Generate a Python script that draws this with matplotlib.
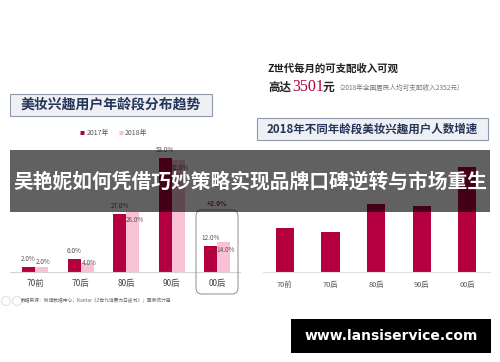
import matplotlib
matplotlib.use('Agg')
import matplotlib.pyplot as plt
from matplotlib.patches import Rectangle, FancyBboxPatch, Ellipse
import numpy as np

plt.rcParams['font.family'] = ['Noto Sans CJK SC', 'DejaVu Sans']

# 数据
age_groups = ['70前', '70后', '80后', '90后', '00后']
share_2017 = [2.0, 6.0, 27.0, 53.0, 12.0]
share_2018 = [2.0, 4.0, 28.0, 52.0, 14.0]
growth_2018 = [44, 40, 68, 66, 105]
label_shift_2018 = [5, 0, -8, -8, -8]

C17 = '#b4003f'
C18 = '#f9c1d6'
NAVY = '#25355a'
GRAY = '#555555'

W, H = 500, 362
fig = plt.figure(figsize=(5, 3.62), dpi=100)
fig.patch.set_facecolor('white')


def fx(px):
    return px / W


def fy(py):
    return 1 - py / H


def box(x0, y0, x1, y1, **kw):
    r = Rectangle((fx(x0), fy(y1)), fx(x1) - fx(x0), fy(y0) - fy(y1),
                  transform=fig.transFigure, **kw)
    fig.add_artist(r)
    return r


# 左图：年龄段分布
ax1 = fig.add_axes([fx(10), fy(271.7), fx(240) - fx(10), fy(158.3) - fy(271.7)])
x = np.arange(len(age_groups))
bw = 0.285
ax1.bar(x - bw / 2, share_2017, bw, color=C17, zorder=2)
ax1.bar(x + bw / 2, share_2018, bw, color=C18, zorder=2)
for i in range(len(x)):
    ax1.annotate('%.1f%%' % share_2017[i], (x[i] - bw / 2, share_2017[i]),
                 xytext=(0, 3), textcoords='offset points', ha='center', va='bottom',
                 fontsize=4.6, color=GRAY, annotation_clip=False)
    ax1.annotate('%.1f%%' % share_2018[i], (x[i] + bw / 2 + 0.04, share_2018[i]),
                 xytext=(0, label_shift_2018[i] * 0.72), textcoords='offset points',
                 ha='center', va='center', fontsize=4.6, color=GRAY, annotation_clip=False)
ax1.set_xlim(-0.55, 4.5)
ax1.set_ylim(0, 53)
ax1.set_xticks(x)
ax1.set_xticklabels(age_groups, fontsize=6, color='#444444')
ax1.tick_params(axis='x', length=0, pad=5.5)
ax1.set_yticks([])
for s in ['top', 'right', 'left']:
    ax1.spines[s].set_visible(False)
ax1.spines['bottom'].set_color('#d4d4d4')
ax1.spines['bottom'].set_linewidth(0.8)
ax1.patch.set_alpha(0)
ax1.text(4, 32, '+2.0%', ha='center', va='center', fontsize=4.8,
         color='#a5303c', fontweight='bold', clip_on=False)

# 00后 圆角框
rb = FancyBboxPatch((fx(196), fy(294)), fx(238) - fx(196), fy(210) - fy(294),
                    boxstyle='round,pad=0,rounding_size=0.012', mutation_aspect=W / H,
                    transform=fig.transFigure, fill=False, edgecolor='#8c8c8c', linewidth=0.7)
fig.add_artist(rb)

# 图例
fig.text(fx(80), fy(132.5), '■', color=C17, fontsize=3.6, va='center')
fig.text(fx(86.5), fy(132.5), '2017年', color=GRAY, fontsize=5, va='center')
fig.text(fx(118.5), fy(132.5), '■', color=C18, fontsize=3.6, va='center')
fig.text(fx(125), fy(132.5), '2018年', color=GRAY, fontsize=5, va='center')

# 左标题框
box(10, 94, 212, 115.5, facecolor='#eef0f4', edgecolor='#8e97ab', linewidth=0.8)
fig.text(fx(111), fy(105), '美妆兴趣用户年龄段分布趋势', ha='center', va='center',
         fontsize=10, color=NAVY, fontweight='bold')

# 右上文字
fig.text(fx(268), fy(69), 'Z世代每月的可支配收入可观', fontsize=7.5, color='#222222',
         fontweight='bold', va='center')
fig.text(fx(268), fy(91), '高达', fontsize=8.3, color='#222222', fontweight='bold', va='baseline')
fig.text(fx(292), fy(91), '3501', fontsize=11.5, color=C17, va='baseline',
         family=['Liberation Serif', 'Noto Sans CJK SC'])
fig.text(fx(323), fy(91), '元', fontsize=8.5, color='#222222', fontweight='bold', va='baseline')
fig.text(fx(335), fy(89.5), '（2018年全国居民人均可支配收入2352元）', fontsize=4.8,
         color='#777777', va='baseline')

# 右标题框
box(257, 118, 488, 139.5, facecolor='#eef0f4', edgecolor='#8e97ab', linewidth=0.8)
fig.text(fx(372.5), fy(129), '2018年不同年龄段美妆兴趣用户人数增速', ha='center', va='center',
         fontsize=8.3, color=NAVY, fontweight='bold')

# 右图：增速
ax2 = fig.add_axes([fx(263), fy(271.7), fx(490) - fx(263), fy(161.7) - fy(271.7)])
ax2.bar(x, growth_2018, 0.4, color=C17, zorder=2)
ax2.set_xlim(-0.48, 4.5)
ax2.set_ylim(0, 110)
ax2.set_xticks(x)
ax2.set_xticklabels(age_groups, fontsize=5.3, color='#555555')
ax2.tick_params(axis='x', length=0, pad=6.5)
ax2.set_yticks([])
for s in ['top', 'right', 'left']:
    ax2.spines[s].set_visible(False)
ax2.spines['bottom'].set_color('#e0e0e0')
ax2.spines['bottom'].set_linewidth(0.8)
ax2.patch.set_alpha(0)

# 数据来源
for cx in [6, 17]:
    e = Ellipse((fx(cx), fy(301)), fx(9), 9 / H, transform=fig.transFigure,
                fill=False, edgecolor='#e2e2e2', linewidth=0.8)
    fig.add_artist(e)
fig.text(fx(21), fy(300.5), '数据来源：微博数据中心；Kantar《Z世代消费力白皮书》；国家统计局',
         fontsize=3.4, color='#666666', va='center')

# 横幅
box(10, 150, 490, 212, facecolor='black', edgecolor='none', alpha=0.62, zorder=5)
fig.text(fx(250), fy(182), '吴艳妮如何凭借巧妙策略实现品牌口碑逆转与市场重生', ha='center',
         va='center', fontsize=14.2, color='white', fontweight='bold', zorder=6)

# 水印
box(291, 319, 491, 353, facecolor='black', edgecolor='none', zorder=5)
fig.text(fx(391), fy(336), 'www.lansiservice.com', ha='center', va='center', fontsize=10,
         color='white', fontweight='bold', family='DejaVu Sans', zorder=6)

fig.savefig('out.png', dpi=100)
